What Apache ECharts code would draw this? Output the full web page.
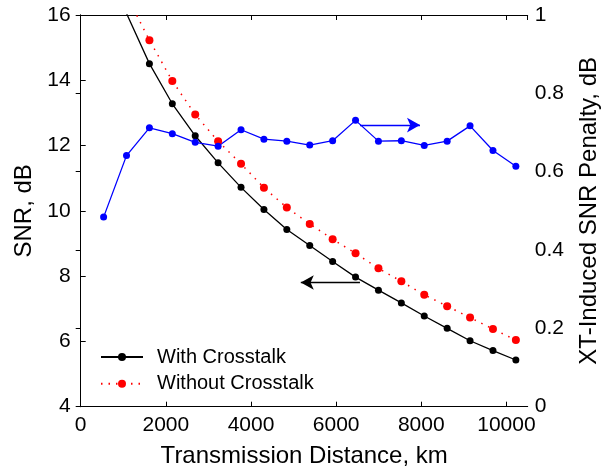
<!DOCTYPE html>
<html>
<head>
<meta charset="utf-8">
<script src="https://cdn.jsdelivr.net/npm/echarts@6/dist/echarts.min.js"></script>
<style>html,body{margin:0;padding:0;background:#fff}#c{width:608px;height:467px}</style>
</head>
<body>
<div id="c"></div>
<script>
// distances (km)
const distance = [538,1076,1614,2152,2690,3228,3766,4304,4842,5380,5918,6456,6994,7532,8070,8608,9146,9684,10222];
// SNR with crosstalk (dB)
const snrWithXT = [null,16.05,14.51,13.28,12.30,11.47,10.72,10.04,9.43,8.94,8.45,7.97,7.57,7.18,6.78,6.40,6.02,5.72,5.43];
// SNR without crosstalk (dB)
const snrWithoutXT = [null,16.6,15.23,13.98,12.95,12.13,11.44,10.71,10.10,9.60,9.13,8.70,8.24,7.84,7.43,7.08,6.73,6.38,6.04];
// XT-induced SNR penalty (dB)
const xtPenalty = [0.484,0.641,0.712,0.697,0.675,0.665,0.707,0.683,0.678,0.668,0.679,0.731,0.678,0.679,0.667,0.678,0.717,0.654,0.614];
const seriesNames = ['With Crosstalk','Without Crosstalk','XT-Induced SNR Penalty'];

const pair = (ys) => distance.map((x,i) => [x, ys[i]]);
const FONT = "'Liberation Sans', Arial, Helvetica, sans-serif";

const chart = echarts.init(document.getElementById('c'), null, {renderer:'canvas'});
const axisCommon = {
  axisLine:{show:true, lineStyle:{color:'#000', width:1}},
  axisTick:{show:true, inside:true, length:5, lineStyle:{color:'#000', width:1}},
  splitLine:{show:false},
};
chart.setOption({
  animation:false,
  backgroundColor:'#fff',
  textStyle:{fontFamily:FONT},
  grid:{left:80.7, right:80.3, top:15, bottom:60.3, containLabel:false, outerBoundsMode:'none'},
  legend:{
    data:[seriesNames[0], seriesNames[1]],
    orient:'vertical', left:95, top:342,
    itemWidth:42, itemHeight:10, itemGap:6.7,
    textStyle:{fontFamily:FONT, fontSize:20, color:'#000', padding:[0,0,0,9]}
  },
  xAxis:[
    Object.assign({}, axisCommon, {
      type:'value', min:0, max:10500, interval:2000, position:'bottom',
      name:'Transmission Distance, km', nameLocation:'middle', nameGap:38,
      nameTextStyle:{fontFamily:FONT, fontSize:24, color:'#000'},
      axisLabel:{fontFamily:FONT, fontSize:21, color:'#000', margin:8, showMaxLabel:false,
        formatter:(v)=> String(v)}
    }),
    Object.assign({}, axisCommon, {
      type:'value', min:0, max:10500, interval:2000, position:'top',
      axisLabel:{show:false}
    })
  ],
  yAxis:[
    Object.assign({}, axisCommon, {
      type:'value', min:4, max:16, interval:2, position:'left',
      name:'SNR, dB', nameLocation:'middle', nameGap:44, nameRotate:90,
      nameTextStyle:{fontFamily:FONT, fontSize:24, color:'#000'},
      axisLabel:{fontFamily:FONT, fontSize:21, color:'#000', margin:10, formatter:(v)=> String(v)}
    }),
    Object.assign({}, axisCommon, {
      type:'value', min:0, max:1, interval:0.2, position:'right',
      name:'XT-Induced SNR Penalty, dB', nameLocation:'middle', nameGap:50, nameRotate:90,
      nameTextStyle:{fontFamily:FONT, fontSize:24, color:'#000'},
      axisLabel:{fontFamily:FONT, fontSize:21, color:'#000', margin:7,
        formatter:(v)=> String(Math.round(v*10)/10)}
    })
  ],
  series:[
    {
      name:seriesNames[0], type:'line', xAxisIndex:0, yAxisIndex:0,
      data:pair(snrWithXT), clip:true, connectNulls:false,
      symbol:'circle', symbolSize:7,
      lineStyle:{color:'#000', width:1.3},
      itemStyle:{color:'#000'},
      markLine:{
        silent:true, symbol:['none','arrow'], symbolSize:[11,13],
        label:{show:false},
        lineStyle:{color:'#000', width:1.3, type:'solid'},
        data:[[{coord:[6560,7.806]},{coord:[5170,7.806]}]]
      }
    },
    {
      name:seriesNames[1], type:'line', xAxisIndex:0, yAxisIndex:0,
      data:pair(snrWithoutXT), clip:true,
      symbol:'circle', symbolSize:8,
      lineStyle:{color:'#ff0000', width:1.5, type:[1.5,6]},
      itemStyle:{color:'#ff0000'}
    },
    {
      name:seriesNames[2], type:'line', xAxisIndex:0, yAxisIndex:1,
      data:pair(xtPenalty), clip:true,
      symbol:'circle', symbolSize:7,
      lineStyle:{color:'#0000ff', width:1.3},
      itemStyle:{color:'#0000ff'},
      markLine:{
        silent:true, symbol:['none','arrow'], symbolSize:[11,13],
        label:{show:false},
        lineStyle:{color:'#0000ff', width:1.3, type:'solid'},
        data:[[{coord:[6560,0.719]},{coord:[7970,0.719]}]]
      }
    }
  ]
});
</script>
</body>
</html>
